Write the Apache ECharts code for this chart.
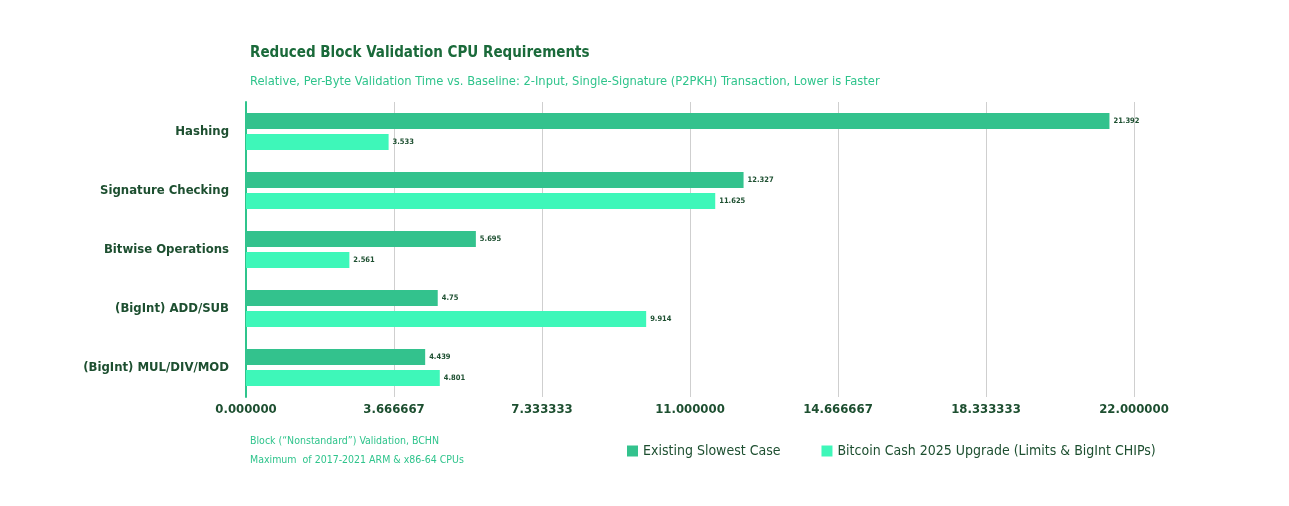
<!DOCTYPE html>
<html>
<head>
<meta charset="utf-8">
<script src="https://cdn.jsdelivr.net/npm/echarts@6/dist/echarts.min.js"></script>
<style>
  html, body { margin: 0; padding: 0; background: #fff; }
  #chart { width: 1289px; height: 506px; }
</style>
</head>
<body>
<div id="chart"></div>
<script>
// categories top to bottom
var categories = ['Hashing', 'Signature Checking', 'Bitwise Operations', '(BigInt) ADD/SUB', '(BigInt) MUL/DIV/MOD'];
var existingSlowest = [21.392, 12.327, 5.695, 4.75, 4.439];
var upgrade2025 = [3.533, 11.625, 2.561, 9.914, 4.801];
var axisMax = 22;
var axisSteps = 6;

var FONT = "'DejaVu Sans Condensed', sans-serif";
var DARK = '#1d4f30';
var TEAL = '#2fc48c';

var valueLabel = {
    show: true,
    position: 'right',
    distance: 4,
    color: DARK,
    fontSize: 7.5,
    fontWeight: 'bold',
    fontFamily: FONT
};

var option = {
    backgroundColor: '#fff',
    animation: false,
    title: [
        {
            text: 'Reduced Block Validation CPU Requirements',
            left: 245,
            top: 41,
            textStyle: { color: '#1a6a3a', fontSize: 15, fontWeight: 'bold', fontFamily: FONT }
        },
        {
            text: 'Relative, Per-Byte Validation Time vs. Baseline: 2-Input, Single-Signature (P2PKH) Transaction, Lower is Faster',
            left: 245,
            top: 70,
            textStyle: { color: TEAL, fontSize: 12.8, fontWeight: 'normal', fontFamily: FONT }
        },
        {
            text: 'Block (“Nonstandard”) Validation, BCHN\nMaximum  of 2017-2021 ARM & x86-64 CPUs',
            left: 245,
            top: 427,
            textStyle: { color: TEAL, fontSize: 10.5, fontWeight: 'normal', lineHeight: 19, fontFamily: FONT }
        }
    ],
    legend: {
        left: 622,
        top: 439,
        itemWidth: 11,
        itemHeight: 11,
        itemGap: 41,
        icon: 'rect',
        textStyle: { color: DARK, fontSize: 14, fontFamily: FONT },
        data: ['Existing Slowest Case', 'Bitcoin Cash 2025 Upgrade (Limits & BigInt CHIPs)']
    },
    grid: {
        left: 246,
        right: 155,
        top: 102,
        bottom: 109
    },
    xAxis: {
        type: 'value',
        min: 0,
        max: axisMax,
        interval: axisMax / axisSteps,
        axisLine: { show: false },
        axisTick: { show: false },
        splitLine: { lineStyle: { color: '#cfcfcf', width: 1 } },
        axisLabel: {
            color: DARK,
            fontSize: 13,
            fontWeight: 'bold',
            fontFamily: FONT,
            margin: 6,
            formatter: function (v) { return v.toFixed(6); }
        }
    },
    yAxis: {
        type: 'category',
        inverse: true,
        data: categories,
        axisLine: { show: true, lineStyle: { color: TEAL, width: 2 } },
        axisTick: { show: false },
        axisLabel: {
            color: DARK,
            fontSize: 13,
            fontWeight: 'bold',
            fontFamily: FONT,
            margin: 17
        }
    },
    series: [
        {
            name: 'Existing Slowest Case',
            type: 'bar',
            data: existingSlowest,
            barWidth: 16,
            barGap: '32%',
            itemStyle: { color: '#33c28d' },
            label: valueLabel
        },
        {
            name: 'Bitcoin Cash 2025 Upgrade (Limits & BigInt CHIPs)',
            type: 'bar',
            data: upgrade2025,
            barWidth: 16,
            itemStyle: { color: '#3ef7b9' },
            label: valueLabel
        }
    ]
};

var chart = echarts.init(document.getElementById('chart'));
chart.setOption(option);
</script>
</body>
</html>
